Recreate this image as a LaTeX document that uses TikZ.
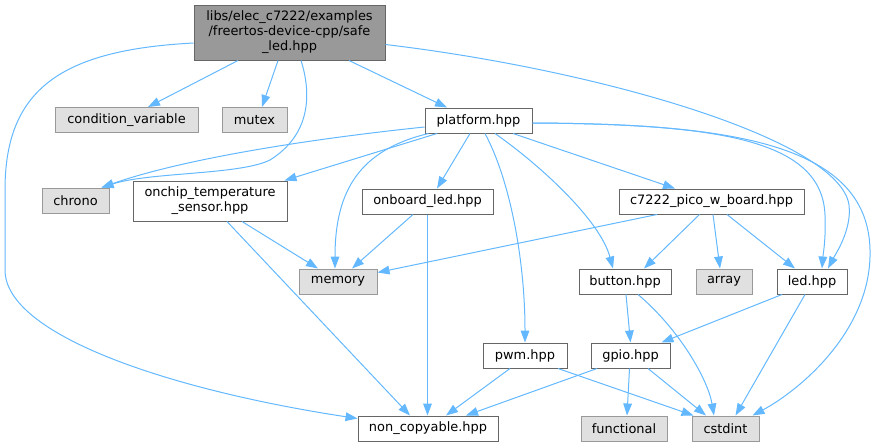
\documentclass[tikz,border=0pt]{standalone}
\usepackage{fontspec}
\setmainfont{DejaVu Sans}
\usetikzlibrary{arrows.meta,calc}
\definecolor{edgecol}{HTML}{63B8FF}
\definecolor{rootfill}{HTML}{999999}
\definecolor{darkborder}{HTML}{666666}
\definecolor{sysfill}{HTML}{E0E0E0}
\definecolor{sysborder}{HTML}{999999}
\begin{document}
\begin{tikzpicture}[x=0.75pt,y=-0.75pt,
  base/.style={draw, line width=0.75pt, inner sep=0pt, minimum height=18.75pt,
    font=\fontsize{9.7}{11.25}\selectfont, align=center, text=black},
  filebox/.style={base, draw=darkborder, fill=white},
  sysbox/.style={base, draw=sysborder, fill=sysfill},
  rootbox/.style={base, draw=darkborder, fill=rootfill},
  dep/.style={draw=edgecol, line width=0.75pt, -{Triangle[length=9pt,width=6.5pt]}},
]
\useasboundingbox (0,0) rectangle (877,447);

\node[rootbox, minimum width=191*0.75pt, minimum height=55*0.75pt] (root) at (289.5,32.5)
  {libs/elec\_c7222/examples\\/freertos-device-cpp/safe\\\_led.hpp};
\node[sysbox, minimum width=143*0.75pt] (condvar) at (126.5,120) {condition\_variable};
\node[sysbox, minimum width=65*0.75pt] (mutex) at (254.5,120) {mutex};
\node[filebox, minimum width=107*0.75pt] (platform) at (478.5,120.5) {platform.hpp};
\node[sysbox, minimum width=67*0.75pt] (chrono) at (75.5,200.5) {chrono};
\node[filebox, minimum width=154*0.75pt, minimum height=40*0.75pt] (onchip) at (210,201)
  {onchip\_temperature\\\_sensor.hpp};
\node[filebox, minimum width=131*0.75pt] (onboard) at (427.5,201.5) {onboard\_led.hpp};
\node[filebox, minimum width=185*0.75pt] (c7222) at (711.5,201.5) {c7222\_pico\_w\_board.hpp};
\node[sysbox, minimum width=78*0.75pt] (memory) at (338,281.5) {memory};
\node[filebox, minimum width=92*0.75pt] (button) at (625,281.5) {button.hpp};
\node[sysbox, minimum width=56*0.75pt] (array) at (724,281.5) {array};
\node[filebox, minimum width=70*0.75pt] (led) at (812,281.5) {led.hpp};
\node[filebox, minimum width=84*0.75pt] (pwm) at (525,355.5) {pwm.hpp};
\node[filebox, minimum width=79*0.75pt] (gpio) at (630.5,355.5) {gpio.hpp};
\node[filebox, minimum width=140*0.75pt] (noncopy) at (428,428.5) {non\_copyable.hpp};
\node[sysbox, minimum width=86*0.75pt] (functional) at (624,428.5) {functional};
\node[sysbox, minimum width=67*0.75pt] (cstdint) at (725.5,428.5) {cstdint};

% root edges
\draw[dep] ($(root.south)+(-51.5,0)$) -- ($(condvar.north)+(21.5,0)$);
\draw[dep] ($(root.south)+(-11.5,0)$) -- ($(mutex.north)+(7.5,0)$);
\draw[dep] ($(root.south)+(11.5,0)$) .. controls (312,95) and (310,135) .. (270,160)
  .. controls (240,175) and (150,172) .. ($(chrono.north east)+(-8,0)$);
\draw[dep] ($(root.west)+(0,10.5)$) .. controls (60,50) and (5,90) .. (5,190) -- (5,270)
  .. controls (5,335) and (170,390) .. ($(noncopy.north west)+(0,3)$);
\draw[dep] ($(root.south)+(59.5,0)$) -- ($(platform.north)+(-31.5,0)$);
\draw[dep] ($(root.east)+(0,12)$) .. controls (600,70) and (840,140) .. (849,205)
  .. controls (852,230) and (835,255) .. ($(led.north)+(16,0)$);

% platform edges
\draw[dep] ($(platform.west)+(0,6.5)$) .. controls (300,140) and (180,160) .. ($(chrono.north east)+(-8,0)$);
\draw[dep] ($(platform.south)+(-41.5,0)$) -- ($(onchip.north east)+(-3,0)$);
\draw[dep] ($(platform.south)+(-50,0)$) .. controls (360,150) and (335,190) .. ($(memory.north)+(-3,0)$);
\draw[dep] ($(platform.south)+(-8.5,0)$) -- ($(onboard.north)+(9.5,0)$);
\draw[dep] ($(platform.south)+(6.5,0)$) .. controls (510,180) and (525,260) .. (pwm.north);
\draw[dep] ($(platform.south)+(16.5,0)$) .. controls (540,165) and (600,220) .. ($(button.north)+(-12,0)$);
\draw[dep] ($(platform.south)+(34.5,0)$) -- ($(c7222.north)+(-36.5,0)$);
\draw[dep] ($(platform.east)+(0,2.5)$) .. controls (720,124) and (822,140) .. (825,215)
  .. controls (826,240) and (823,255) .. ($(led.north)+(10,0)$);
\draw[dep] ($(platform.east)+(0,2.5)$) .. controls (720,124) and (868,140) .. (870,250)
  .. controls (872,330) and (800,390) .. ($(cstdint.north east)+(-7,0)$);

% onchip / onboard
\draw[dep] ($(onchip.south)+(32,0)$) -- ($(memory.north)+(-20,0)$);
\draw[dep] ($(onchip.south)+(17,0)$) -- ($(noncopy.north)+(-18,0)$);
\draw[dep] ($(onboard.south)+(-14.5,0)$) -- ($(memory.north)+(14,0)$);
\draw[dep] (onboard.south) -- ($(noncopy.north)+(-0.5,0)$);

% c7222
\draw[dep] ($(c7222.south)+(-54.5,0)$) -- ($(memory.north east)+(0,4)$);
\draw[dep] ($(c7222.south)+(-12,0)$) -- ($(button.north)+(19,0)$);
\draw[dep] ($(c7222.south)+(1.5,0)$) -- ($(array.north)+(-4,0)$);
\draw[dep] ($(c7222.south)+(15.5,0)$) -- ($(led.north)+(-17,0)$);

% button / led
\draw[dep] ($(button.south)+(1,0)$) -- (gpio.north);
\draw[dep] ($(button.south)+(13,0)$) .. controls (680,330) and (708,380) .. ($(cstdint.north)+(-11.5,0)$);
\draw[dep] ($(led.south)+(-30,0)$) -- ($(gpio.north)+(31,0)$);
\draw[dep] ($(led.south)+(-7,0)$) -- ($(cstdint.north)+(10,0)$);

% pwm / gpio
\draw[dep] ($(pwm.south)+(-15,0)$) -- ($(noncopy.north)+(18,0)$);
\draw[dep] ($(pwm.south)+(33,0)$) -- ($(cstdint.north west)+(2,0)$);
\draw[dep] ($(gpio.south)+(-33.5,0)$) -- ($(noncopy.north)+(38,0)$);
\draw[dep] ($(gpio.south)+(-1,0)$) -- ($(functional.north)+(3,0)$);
\draw[dep] ($(gpio.south)+(17.5,0)$) -- ($(cstdint.north)+(-19.5,0)$);
\end{tikzpicture}
\end{document}
